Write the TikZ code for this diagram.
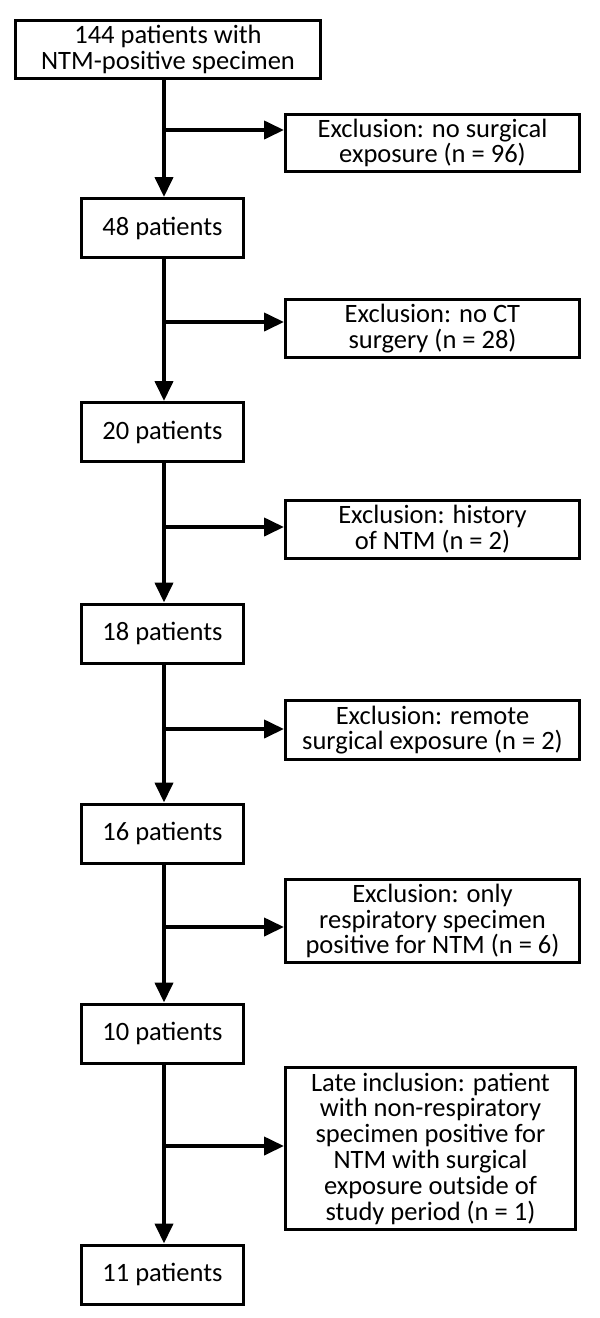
\documentclass[tikz,border=0pt]{standalone}
\usepackage{fontspec}
\setmainfont{Carlito}
\usetikzlibrary{arrows.meta}
\tikzset{
  box/.style={draw=black, line width=3pt, fill=white, align=center, inner sep=0pt,
    font=\fontsize{26.5}{25.8}\selectfont},
  leftbox/.style={box, minimum width=162pt, minimum height=59pt},
  rightbox/.style={box, minimum width=294pt},
  conn/.style={line width=4pt, -{Triangle[length=20pt,width=18pt]}}
}
\begin{document}
\begin{tikzpicture}[x=1pt,y=-1pt]
\useasboundingbox (0,0) rectangle (600,1318);
% left column
\node[box, minimum width=305pt, minimum height=58pt] (top) at (168,49.5) {144 patients with\\NTM-positive specimen};
\node[leftbox] (b48) at (162.5,228) {48 patients};
\node[leftbox] (b20) at (162.5,432) {20 patients};
\node[leftbox] (b18) at (162.5,633.5) {18 patients};
\node[leftbox] (b16) at (162.5,833.5) {16 patients};
\node[leftbox] (b10) at (162.5,1033.5) {10 patients};
\node[leftbox] (b11) at (162.5,1274.5) {11 patients};
% right column
\node[rightbox, minimum height=57pt] (r1) at (432.5,143) {Exclusion: no surgical\\exposure (n = 96)};
\node[rightbox, minimum height=58pt] (r2) at (432.5,328.5) {Exclusion: no CT\\surgery (n = 28)};
\node[rightbox, minimum height=58pt] (r3) at (432.5,529.5) {Exclusion: history\\of NTM (n = 2)};
\node[rightbox, minimum height=59pt] (r4) at (432.5,730) {Exclusion: remote\\surgical exposure (n = 2)};
\node[rightbox, minimum height=83pt] (r5) at (432.5,921) {Exclusion: only\\respiratory specimen\\positive for NTM (n = 6)};
\node[rightbox, minimum width=290pt, minimum height=162pt] (r6) at (430.5,1148.5) {Late inclusion: patient\\with non-respiratory\\specimen positive for\\NTM with surgical\\exposure outside of\\study period (n = 1)};
% junctions
\coordinate (j1) at (164,130);
\coordinate (j2) at (164,322);
\coordinate (j3) at (164,527);
\coordinate (j4) at (164,729);
\coordinate (j5) at (164,927);
\coordinate (j6) at (164,1146);
% trunk arrows
\draw[conn] (top.south -| j1) -- (j1 |- b48.north);
\draw[conn] (b48.south -| j2) -- (j2 |- b20.north);
\draw[conn] (b20.south -| j3) -- (j3 |- b18.north);
\draw[conn] (b18.south -| j4) -- (j4 |- b16.north);
\draw[conn] (b16.south -| j5) -- (j5 |- b10.north);
\draw[conn] (b10.south -| j6) -- (j6 |- b11.north);
% branch arrows
\draw[conn] (j1) -- (j1 -| r1.west);
\draw[conn] (j2) -- (j2 -| r2.west);
\draw[conn] (j3) -- (j3 -| r3.west);
\draw[conn] (j4) -- (j4 -| r4.west);
\draw[conn] (j5) -- (j5 -| r5.west);
\draw[conn] (j6) -- (j6 -| r6.west);
\end{tikzpicture}
\end{document}
